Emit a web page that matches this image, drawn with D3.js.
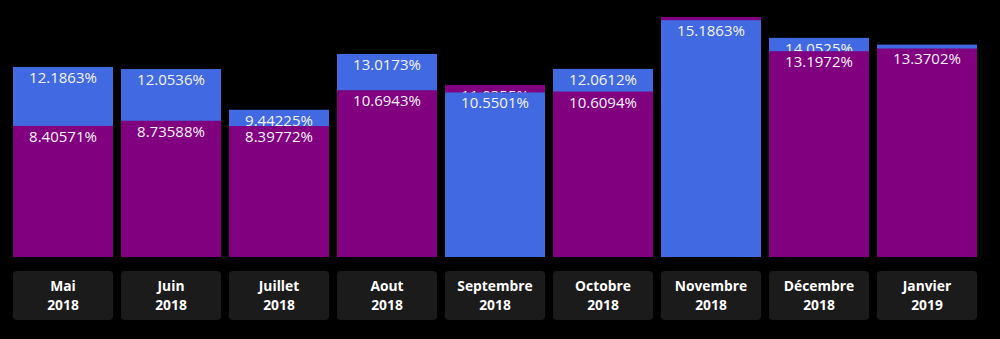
<!DOCTYPE html>
<html>
<head>
<meta charset="utf-8">
<script src="https://cdn.jsdelivr.net/npm/d3@7"></script>
<style>
  html, body { margin: 0; padding: 0; background: #000; }
  svg { display: block; }
</style>
</head>
<body>
<svg id="chart" width="1000" height="339"></svg>
<script>
// Monthly rates, two overlapping series per month
const months = ["Mai", "Juin", "Juillet", "Aout", "Septembre", "Octobre", "Novembre", "Décembre", "Janvier"];
const years = ["2018", "2018", "2018", "2018", "2018", "2018", "2018", "2018", "2019"];
const blueValues = [12.1863, 12.0536, 9.44225, 13.0173, 10.5501, 12.0612, 15.1863, 14.0525, 13.62];
const purpleValues = [8.40571, 8.73588, 8.39772, 10.6943, 11.0355, 10.6094, 15.39, 13.1972, 13.3702];

const colors = { blue: "#4169E1", purple: "#800080" };

const svg = d3.select("#chart");

const x = d3.scaleBand()
  .domain(months)
  .range([13, 977])
  .paddingInner(8 / 108)
  .paddingOuter(0);

const maxVal = d3.max([...blueValues, ...purpleValues]);
const y = d3.scaleLinear().domain([0, maxVal]).range([257, 17]);

const fmt = v => `${v}%`;

// For each month, draw the taller bar first so the shorter one sits in front
const rows = months.map((m, i) => {
  const pair = [
    { key: "blue", value: blueValues[i] },
    { key: "purple", value: purpleValues[i] }
  ].sort((a, b) => b.value - a.value);
  return { month: m, year: years[i], pair };
});

const groups = svg.selectAll("g.month")
  .data(rows)
  .join("g")
  .attr("class", "month")
  .attr("transform", d => `translate(${x(d.month)},0)`);

groups.each(function(d) {
  const g = d3.select(this);
  d.pair.forEach(s => {
    g.append("rect")
      .attr("x", 0)
      .attr("y", y(s.value))
      .attr("width", x.bandwidth())
      .attr("height", y(0) - y(s.value))
      .attr("fill", colors[s.key]);
    g.append("text")
      .attr("x", x.bandwidth() / 2)
      .attr("y", y(s.value) + 16)
      .attr("text-anchor", "middle")
      .attr("font-family", "'Open Sans', sans-serif")
      .attr("font-size", 15)
      .attr("fill", "#f4f4f4")
      .text(fmt(s.value));
  });

  // Category label box
  g.append("rect")
    .attr("x", 0)
    .attr("y", 271)
    .attr("width", x.bandwidth())
    .attr("height", 49)
    .attr("rx", 4)
    .attr("fill", "#1b1b1b");
  const t = g.append("text")
    .attr("text-anchor", "middle")
    .attr("font-family", "'Open Sans', sans-serif")
    .attr("font-weight", "bold")
    .attr("font-size", 13.8)
    .attr("fill", "#ffffff");
  t.append("tspan").attr("x", x.bandwidth() / 2).attr("y", 291).text(d.month);
  t.append("tspan").attr("x", x.bandwidth() / 2).attr("y", 310).text(d.year);
});
</script>
</body>
</html>
